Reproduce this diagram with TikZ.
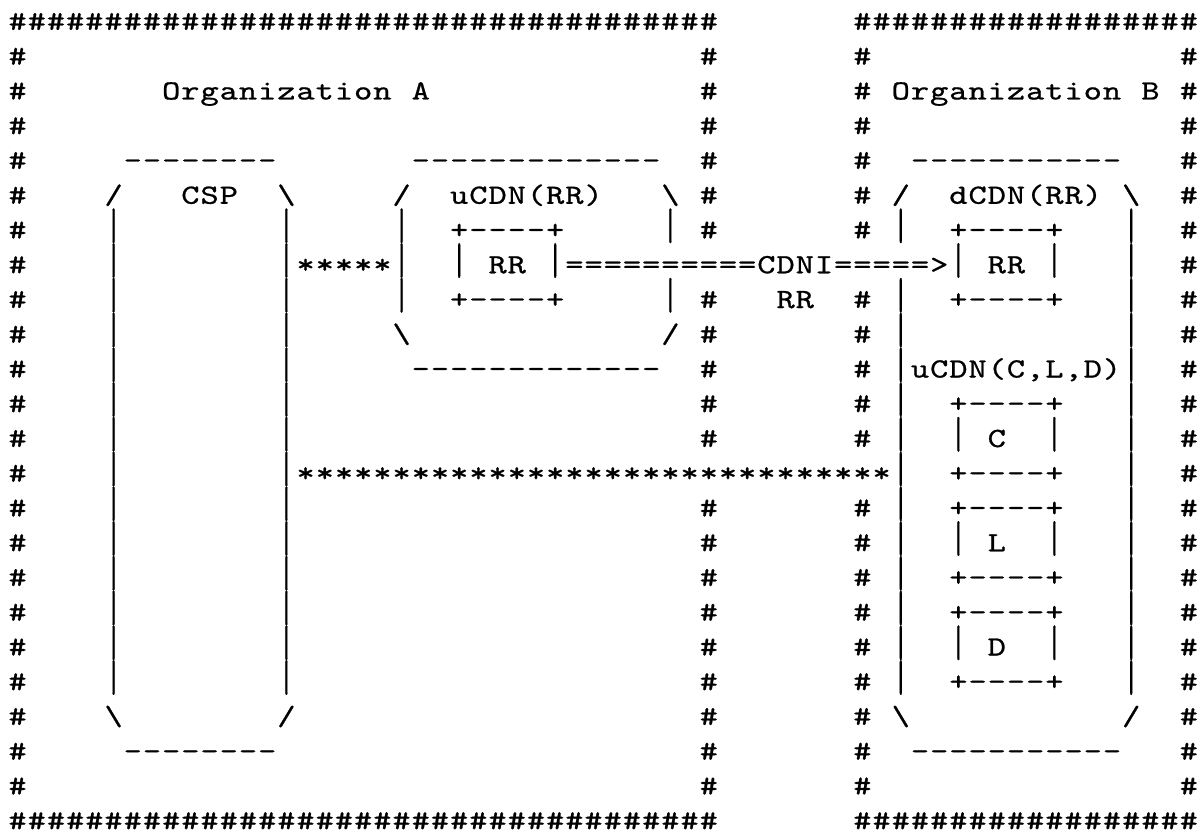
\documentclass[tikz,border=0pt]{standalone}
\usepackage{graphicx}
\usepackage{fontspec}
\newfontfamily\asciifont[FakeBold=0.7]{lmmono10-regular.otf}
\makeatletter
\def\ac@bar{|}
\newcommand\vbar{\raisebox{-2.3pt}{\resizebox*{\width}{17.3pt}{\raisebox{\depth}{|}}}}
\newcommand\ac@glyph{\ifx\ac@c\ac@bar\vbar\else\scalebox{1.25}[1]{\ac@c}\fi}
\newcommand\asciichars[1]{\@tfor\ac@c:=#1\do{\makebox[9.6pt][c]{\ac@glyph}}}
\makeatother
\newcommand\seg[3]{\node[cell] (s#1-#2) at ({4pt+#2*9.6pt},{-15pt-(#1-1)*17.375pt}) {\asciichars{#3}};}
\newcommand\hashrow[1]{\seg{#1}{0}{\#}\seg{#1}{36}{\#}\seg{#1}{44}{\#}\seg{#1}{61}{\#}}
\newcommand\siderow[2]{\seg{#1}{0}{\#}\seg{#1}{5}{|}\seg{#1}{14}{|}\seg{#1}{36}{\#}\seg{#1}{44}{\#\ |}\seg{#1}{49}{#2}\seg{#1}{58}{|}\seg{#1}{61}{\#}}
\begin{document}
\begin{tikzpicture}[cell/.style={inner sep=0pt, outer sep=0pt, anchor=base west, font=\fontsize{13.9pt}{16pt}\asciifont}]
\path[use as bounding box, fill=white] (0,0) rectangle (601.5pt,-417pt);
% row 1
\seg{1}{0}{\#\#\#\#\#\#\#\#\#\#\#\#\#\#\#\#\#\#\#\#\#\#\#\#\#\#\#\#\#\#\#\#\#\#\#\#\#}
\seg{1}{44}{\#\#\#\#\#\#\#\#\#\#\#\#\#\#\#\#\#\#}
% row 2
\hashrow{2}
% row 3
\seg{3}{0}{\#}\seg{3}{8}{Organization\ A}\seg{3}{36}{\#}\seg{3}{44}{\#\ Organization\ B\ \#}
% row 4
\hashrow{4}
% row 5
\seg{5}{0}{\#}\seg{5}{6}{--------}\seg{5}{21}{-------------}\seg{5}{36}{\#}\seg{5}{44}{\#}\seg{5}{47}{-----------}\seg{5}{61}{\#}
% row 6
\seg{6}{0}{\#}\seg{6}{5}{/}\seg{6}{9}{CSP}\seg{6}{14}{\textbackslash}\seg{6}{20}{/}\seg{6}{23}{uCDN(RR)}\seg{6}{34}{\textbackslash}\seg{6}{36}{\#}\seg{6}{44}{\#\ /}\seg{6}{49}{dCDN(RR)}\seg{6}{58}{\textbackslash}\seg{6}{61}{\#}
% row 7
\seg{7}{0}{\#}\seg{7}{5}{|}\seg{7}{14}{|}\seg{7}{20}{|}\seg{7}{23}{+----+}\seg{7}{34}{|}\seg{7}{36}{\#}\seg{7}{44}{\#\ |}\seg{7}{49}{+----+}\seg{7}{58}{|}\seg{7}{61}{\#}
% row 8
\seg{8}{0}{\#}\seg{8}{5}{|}\seg{8}{14}{|*****|}\seg{8}{23}{|\ RR\ |==========CDNI=====>|\ RR\ |}\seg{8}{58}{|}\seg{8}{61}{\#}
% row 9
\seg{9}{0}{\#}\seg{9}{5}{|}\seg{9}{14}{|}\seg{9}{20}{|}\seg{9}{23}{+----+}\seg{9}{34}{|}\seg{9}{36}{\#}\seg{9}{40}{RR}\seg{9}{44}{\#\ |}\seg{9}{49}{+----+}\seg{9}{58}{|}\seg{9}{61}{\#}
% row 10
\seg{10}{0}{\#}\seg{10}{5}{|}\seg{10}{14}{|}\seg{10}{20}{\textbackslash}\seg{10}{34}{/}\seg{10}{36}{\#}\seg{10}{44}{\#\ |}\seg{10}{58}{|}\seg{10}{61}{\#}
% row 11
\seg{11}{0}{\#}\seg{11}{5}{|}\seg{11}{14}{|}\seg{11}{21}{-------------}\seg{11}{36}{\#}\seg{11}{44}{\#\ |uCDN(C,L,D)|}\seg{11}{61}{\#}
% rows 12-13
\siderow{12}{+----+}
\siderow{13}{|\ C\ \ |}
% row 14
\seg{14}{0}{\#}\seg{14}{5}{|}\seg{14}{14}{|*******************************|}\seg{14}{49}{+----+}\seg{14}{58}{|}\seg{14}{61}{\#}
% rows 15-20
\siderow{15}{+----+}
\siderow{16}{|\ L\ \ |}
\siderow{17}{+----+}
\siderow{18}{+----+}
\siderow{19}{|\ D\ \ |}
\siderow{20}{+----+}
% row 21
\seg{21}{0}{\#}\seg{21}{5}{\textbackslash}\seg{21}{14}{/}\seg{21}{36}{\#}\seg{21}{44}{\#\ \textbackslash}\seg{21}{58}{/}\seg{21}{61}{\#}
% row 22
\seg{22}{0}{\#}\seg{22}{6}{--------}\seg{22}{36}{\#}\seg{22}{44}{\#}\seg{22}{47}{-----------}\seg{22}{61}{\#}
% row 23
\hashrow{23}
% row 24
\seg{24}{0}{\#\#\#\#\#\#\#\#\#\#\#\#\#\#\#\#\#\#\#\#\#\#\#\#\#\#\#\#\#\#\#\#\#\#\#\#\#}
\seg{24}{44}{\#\#\#\#\#\#\#\#\#\#\#\#\#\#\#\#\#\#}
\end{tikzpicture}
\end{document}
